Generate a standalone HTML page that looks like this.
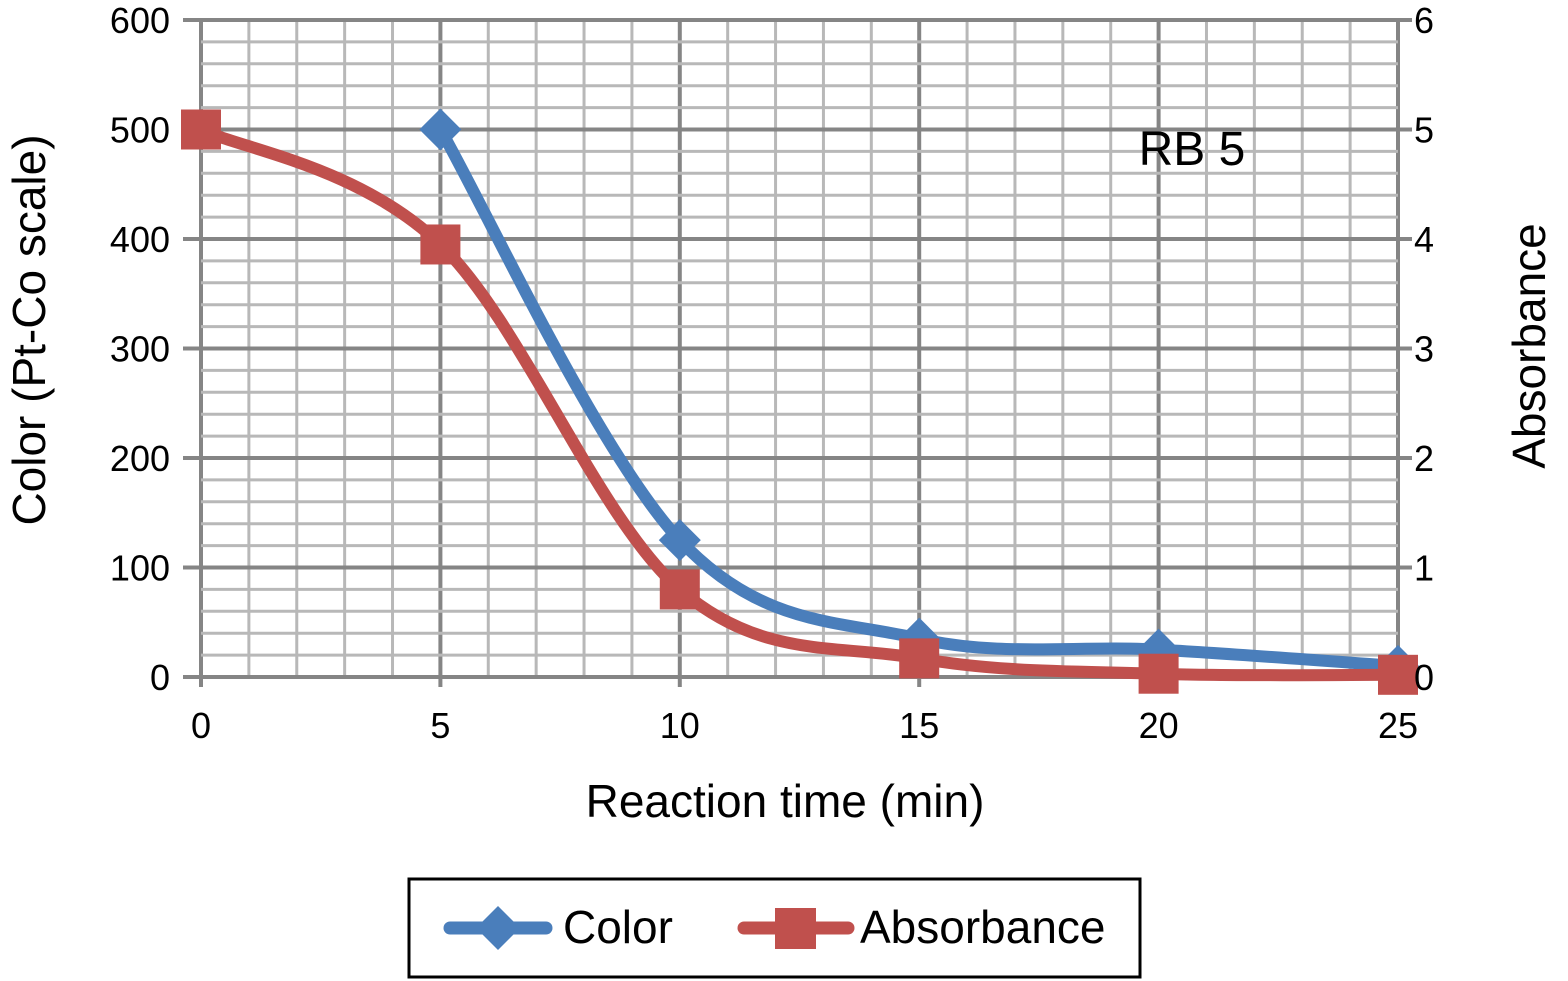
<!DOCTYPE html>
<html><head><meta charset="utf-8"><style>
html,body{margin:0;padding:0;background:#fff;}
svg{display:block;font-family:"Liberation Sans",Arial,sans-serif;}
</style></head><body>
<svg id="chart" width="1568" height="981" viewBox="0 0 1568 981">
<g id="grid"></g>
<g id="series"></g>
<g id="labels"></g>
<text x="1192" y="165" font-size="48" text-anchor="middle">RB 5</text>
<text x="785" y="817" font-size="46" text-anchor="middle">Reaction time (min)</text>
<text transform="translate(45,330) rotate(-90)" font-size="46" text-anchor="middle">Color (Pt-Co scale)</text>
<text transform="translate(1545,346) rotate(-90)" font-size="46" text-anchor="middle">Absorbance</text>
<g>
<rect x="409" y="879" width="731" height="98" fill="#fff" stroke="#000" stroke-width="3"/>
<g>
<line x1="450" y1="928" x2="546" y2="928" stroke="#4a7ebb" stroke-width="13" stroke-linecap="round"/>
<polygon points="498,906 520,928 498,950 476,928" fill="#4a7ebb"/>
<text x="563" y="943" font-size="46">Color</text>
</g>
<g>
<line x1="744" y1="928" x2="848" y2="928" stroke="#c0504d" stroke-width="13" stroke-linecap="round"/>
<rect x="775" y="908" width="41" height="41" fill="#c0504d"/>
<text x="860" y="943" font-size="46">Absorbance</text>
</g>
</g>
</svg>
<script>
const times = [0, 5, 10, 15, 20, 25];
const colorX = [5, 10, 15, 20, 25];
const colorVals = [500, 125, 35, 25, 10];
const absX = [0, 5, 10, 15, 20, 25];
const absVals = [5.0, 3.95, 0.8, 0.17, 0.03, 0.02];
const leftTicks = [0, 100, 200, 300, 400, 500, 600];
const rightTicks = [0, 1, 2, 3, 4, 5, 6];

const NS = "http://www.w3.org/2000/svg";
const X0 = 201, X1 = 1398, Y0 = 677, Y1 = 20;
function xs(v){ return X0 + (v - 0) / 25 * (X1 - X0); }
function yl(v){ return Y0 - v / 600 * (Y0 - Y1); }
function yr(v){ return Y0 - v / 6 * (Y0 - Y1); }
function mk(tag, attrs, parent){
  const e = document.createElementNS(NS, tag);
  for (const k in attrs) e.setAttribute(k, attrs[k]);
  parent.appendChild(e); return e;
}
const grid = document.getElementById('grid');
const ser = document.getElementById('series');
const lab = document.getElementById('labels');
for (let t = 0; t <= 25; t++) {
  const major = t % 5 === 0;
  const l = mk('line', {x1: xs(t), x2: xs(t), y1: Y1, y2: Y0 + (major ? 10 : 0), stroke: major ? '#858585' : '#b8b8b8', 'stroke-width': major ? 4 : 3}, grid);
  
  
}
for (let v = 0; v <= 600; v += 20) {
  const major = v % 100 === 0;
  const l = mk('line', {x1: X0 - (major ? 18 : 0), x2: X1 + (major ? 14 : 0), y1: yl(v), y2: yl(v), stroke: major ? '#858585' : '#b8b8b8', 'stroke-width': major ? 4 : 3}, grid);
  
  
}
leftTicks.forEach(v => {
  const t = mk('text', {x: 170, y: yl(v) + 13, 'font-size': 36, 'text-anchor': 'end'}, lab);
  t.textContent = v;
  
  
});
rightTicks.forEach(v => {
  const t = mk('text', {x: 1414, y: yr(v) + 13, 'font-size': 36, 'text-anchor': 'start'}, lab);
  t.textContent = v;
  
  
});
times.forEach(v => {
  const t = mk('text', {x: xs(v), y: 738, 'font-size': 36, 'text-anchor': 'middle'}, lab);
  t.textContent = v;
  
  
});
function smooth(pts){
  let d = 'M' + pts[0][0] + ',' + pts[0][1];
  const k = 0.17;
  for (let i = 0; i < pts.length - 1; i++) {
    const p0 = pts[i - 1] || pts[i], p1 = pts[i], p2 = pts[i + 1], p3 = pts[i + 2] || p2;
    const c1 = [p1[0] + (p2[0] - p0[0]) * k, p1[1] + (p2[1] - p0[1]) * k];
    const c2 = [p2[0] - (p3[0] - p1[0]) * k, p2[1] - (p3[1] - p1[1]) * k];
    d += ' C' + c1 + ' ' + c2 + ' ' + p2;
  }
  return d;
}
const cp = colorX.map((t, i) => [xs(t), yl(colorVals[i])]);
const ap = absX.map((t, i) => [xs(t), yr(absVals[i])]);
const cl = mk('path', {d: smooth(cp), fill: 'none', stroke: '#4a7ebb', 'stroke-width': 12, 'stroke-linejoin': 'round'}, ser);


const al = mk('path', {d: smooth(ap), fill: 'none', stroke: '#c0504d', 'stroke-width': 12, 'stroke-linejoin': 'round'}, ser);


cp.forEach(p => {
  const m = mk('polygon', {points: [[p[0], p[1] - 21], [p[0] + 21, p[1]], [p[0], p[1] + 21], [p[0] - 21, p[1]]].join(' '), fill: '#4a7ebb'}, ser);
  
  
});
ap.forEach(p => {
  const m = mk('rect', {x: p[0] - 20, y: p[1] - 20, width: 40, height: 40, fill: '#c0504d'}, ser);
  
  
});
</script>
</body></html>
